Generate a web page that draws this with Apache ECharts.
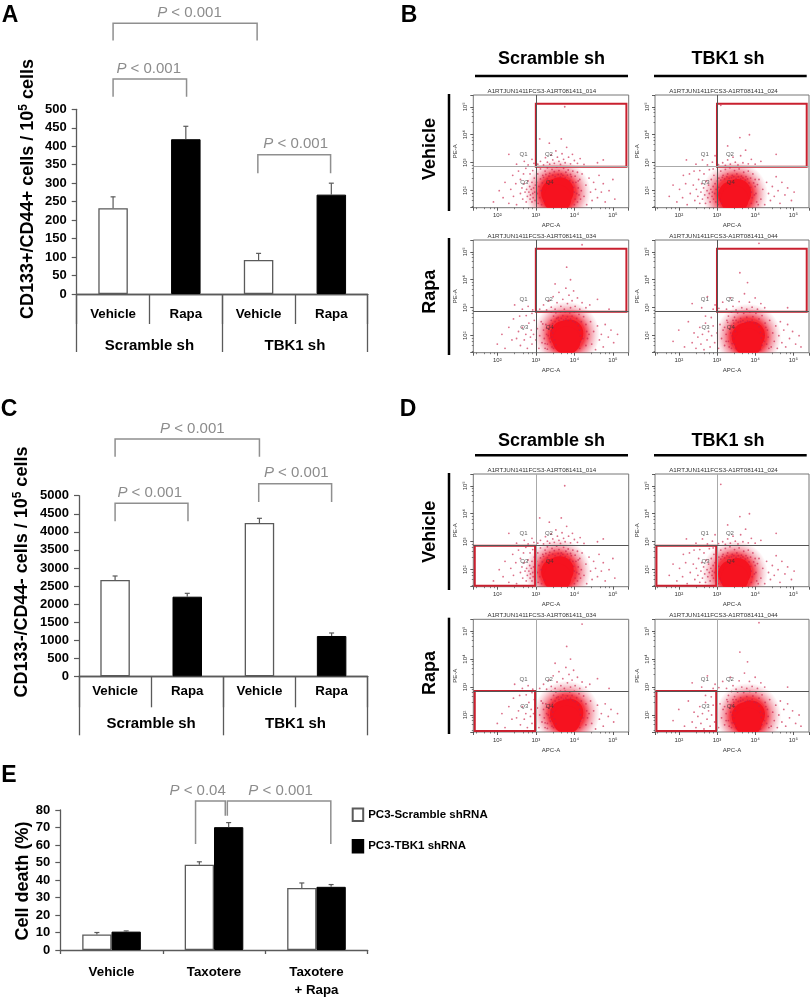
<!DOCTYPE html>
<html>
<head>
<meta charset="utf-8">
<title>CD133/CD44 and cell death panels</title>
<script src="https://cdn.jsdelivr.net/npm/echarts@6/dist/echarts.min.js"></script>
<style>
  html, body { margin: 0; background: #fff; }
  #main { width: 812px; height: 999px; }
</style>
</head>
<body>
<div id="main"></div>
<script>
// bar panels
const treatments = ["Vehicle", "Rapa", "Vehicle", "Rapa"];
const groups = ["Scramble sh", "TBK1 sh"];
const panelAValues = [232, 419, 92, 269];
const panelAUpper = [263, 454, 110, 300];
const panelCValues = [2666, 2204, 4244, 1116];
const panelCUpper = [2777, 2297, 4374, 1199];
const panelECategories = ["Vehicle", "Taxotere", "Taxotere\n+ Rapa"];
const panelEScramble = [8.9, 48.7, 35.4];
const panelEScrambleUpper = [10, 50.4, 38.3];
const panelETbk1 = [10.5, 70.2, 36.1];
const panelETbk1Upper = [10.9, 72.8, 37.4];

// brackets: from, to, top, left foot, right foot, text, text centre
const bracketsA = [
  [0, 1.98, 733, 686, 686, "0.001", 1.05],
  [0, 1.01, 582, 534, 534, "0.001", 0.49],
  [1.99, 2.99, 377, 327, 327, "0.001", 2.51],
];
const bracketsC = [
  [0, 2, 6570, 6080, 6080, "0.001", 1.07],
  [0, 1.01, 4790, 4290, 4290, "0.001", 0.48],
  [1.99, 3, 5333, 4826, 4826, "0.001", 2.51],
];
const bracketsE = [
  [0.82, 1.11, 85.2, 60.6, 76.7, "0.04", 0.84],
  [1.13, 2.14, 85.2, 76.7, 60.6, "0.001", 1.65],
];

// flow plots, in decades (APC, PE). The event lists can't be recovered from the
// picture, so the dots are a hand-read sample of where each cloud sits.
const flowTitles = ["_014", "_024", "_034", "_044"];
const scrambleVehicleCore = [[3.5, 1.92], [3.62, 1.98], [3.56, 1.72]];
const scrambleVehicleMid = [[3.57, 1.93]];
const scrambleVehicleDots = [
  [3.05,2.95],[3.12,3.05],[3.2,2.92],[3.25,3.18],[3.3,3.02],[3.36,2.95],[3.4,3.28],[3.44,3.1],[3.48,2.98],[3.52,3.42],
  [3.56,3.2],[3.6,3.05],[3.64,2.94],[3.68,3.32],[3.72,3.12],[3.76,3],[3.8,3.55],[3.85,3.2],[3.9,2.96],[3.95,3.3],
  [4,3.08],[4.08,2.98],[4.15,3.15],[4.25,2.94],[3.35,3.7],[3.66,3.85],[3.1,3.85],[4.6,3],[4.75,3.1],[3.75,5],
  [2.5,2.95],[2.7,3.05],[2.8,2.92],[2.9,3.12],[2.95,2.98],[2.3,3.3],
  [2.6,1.9],[2.64,2.1],[2.66,1.7],[2.7,2.25],[2.72,1.95],[2.75,1.6],[2.76,2.05],[2.78,1.8],[2.8,2.35],[2.82,1.95],
  [2.84,2.15],[2.85,1.7],[2.86,1.85],[2.88,2.05],[2.9,1.6],[2.9,2.3],[2.92,1.9],[2.93,1.75],[2.94,2.1],[2.96,2.45],
  [2.97,1.95],[2.98,1.65],[2.99,2.2],[1.9,1.6],[2.05,2],[2.15,1.75],[2.2,2.3],[2.3,1.55],[2.35,2.05],[2.4,2.55],
  [2.42,1.8],[2.48,2.25],[2.5,1.5],[2.55,2.7],[2.6,2.4],[2.68,2.6],[2.74,2.8],[2.85,2.6],[2.92,2.72],
  [4.2,2.6],[4.25,1.8],[4.3,2.2],[4.32,1.5],[4.38,2.45],[4.42,1.95],[4.46,1.65],[4.5,2.3],[4.55,2.05],[4.6,1.75],
  [4.64,2.55],[4.7,1.95],[4.75,2.25],[4.8,1.6],[4.9,2],[5,2.4],[5.05,1.7],
  [3.05,2.6],[3.12,2.78],[3.18,2.55],[3.24,2.7],[3.3,2.82],[3.36,2.62],[3.42,2.76],[3.48,2.68],[3.54,2.84],[3.6,2.72],
  [3.66,2.6],[3.72,2.8],[3.78,2.66],[3.84,2.74],[3.9,2.58],[3.96,2.7],[4.02,2.52],[4.08,2.66],[4.14,2.4],[4.04,2.3],
  [4.1,2.1],[4.12,1.85],[4.08,1.6],[4.18,2],[4.16,1.7],
  [3.02,2.3],[3.04,1.9],[3.06,1.55],[3.08,2.15],[3.1,1.75],[3.12,2.42],[3.14,2],[3.15,1.5],[3.17,2.28],[3.2,2.48],
  [3.22,1.62],[3.26,2.58],[3.3,2.42],[3.34,2.52],[3.44,2.56],[3.5,2.5],[3.58,2.58],[3.64,2.5],[3.7,2.55],[3.76,2.46],
  [3.82,2.56],[3.88,2.36],[3.92,2.5],[3.96,2.3],[3.98,2.12],[4,1.95],[4.02,1.7],[4,1.5],[4.06,1.9],[4.1,2.35],
];
const tbk1VehicleCore = [[3.4, 1.85], [3.53, 1.92], [3.46, 1.68]];
const tbk1VehicleMid = [[3.47, 1.87]];
const tbk1VehicleDots = [
  [3.04,2.93],[3.15,3],[3.22,2.9],[3.28,3.1],[3.35,2.95],[3.42,3.2],[3.48,3.02],[3.55,2.92],[3.62,3.25],[3.68,3],
  [3.75,3.45],[3.82,2.96],[3.9,3.12],[4,2.95],[4.15,3.05],[3.28,3.6],[3.6,3.9],[3.1,5.05],[4.55,3.3],[3.85,4],
  [2.45,2.95],[2.62,3.1],[2.75,2.92],[2.88,3.02],[2.95,3.25],[2.2,3.1],
  [2.3,1.9],[2.38,2.2],[2.42,1.65],[2.46,2.05],[2.5,1.8],[2.52,2.4],[2.55,1.55],[2.58,1.95],[2.6,2.25],[2.62,1.7],
  [2.65,2.1],[2.68,1.85],[2.7,1.55],[2.72,2.35],[2.74,2],[2.76,1.75],[2.78,2.2],[2.8,1.9],[2.82,1.6],[2.84,2.05],
  [2.85,2.4],[2.87,1.8],[2.88,1.95],[2.9,2.15],[2.91,1.7],[2.92,2.55],[2.94,1.9],[2.95,2.25],[2.97,1.6],[2.98,2.05],
  [1.75,1.8],[1.85,2.2],[1.95,1.6],[2.02,2.05],[2.1,1.75],[2.12,2.55],[2.18,2.25],[2.22,1.5],[2.28,2.6],[2.4,2.7],
  [2.55,2.72],[2.66,2.6],[2.8,2.75],[2.9,2.78],
  [4.1,2.4],[4.15,1.7],[4.2,2.05],[4.25,1.5],[4.3,2.3],[4.35,1.9],[4.4,1.65],[4.45,2.15],[4.5,1.8],[4.55,2.5],
  [4.6,2],[4.65,1.55],[4.7,2.3],[4.78,1.85],[4.85,2.1],[4.95,1.65],[5.02,1.95],
  [3.05,2.45],[3.1,2.7],[3.16,2.55],[3.22,2.76],[3.28,2.6],[3.34,2.82],[3.4,2.55],[3.46,2.72],[3.52,2.6],[3.58,2.78],
  [3.64,2.52],[3.7,2.66],[3.76,2.5],[3.82,2.7],[3.88,2.45],[3.94,2.6],[4,2.4],[4,2.15],[4.02,1.9],[4.04,1.6],
  [3.01,2.35],[3.02,1.85],[3.03,1.5],[3.05,2.12],[3.07,1.68],[3.1,2.38],[3.14,2.48],[3.2,2.42],[3.26,2.5],[3.32,2.44],
  [3.38,2.46],[3.44,2.5],[3.5,2.44],[3.56,2.5],[3.62,2.42],[3.68,2.46],[3.74,2.38],[3.8,2.42],[3.84,2.28],[3.88,2.12],
  [3.9,1.95],[3.92,1.75],[3.9,1.55],[3.96,2.28],[3.98,1.85],[4.06,2.22],[4.08,1.5],[3.06,1.92],[3.12,1.55],
];
const scrambleRapaCore = [[3.73, 2.03], [3.87, 2.08], [3.8, 1.83]];
const scrambleRapaMid = [[3.8, 2.05]];
const scrambleRapaDots = [
  [3.1,2.95],[3.2,3.1],[3.28,2.92],[3.34,3.25],[3.4,3.02],[3.45,3.4],[3.5,2.95],[3.55,3.18],[3.6,3.55],[3.65,3.05],
  [3.7,3.3],[3.74,2.95],[3.78,3.7],[3.82,3.15],[3.86,3.45],[3.9,3],[3.94,3.25],[3.98,3.6],[4.02,3.05],[4.08,3.35],
  [4.14,2.95],[4.2,3.18],[4.3,3],[4.4,3.1],[3.5,3.85],[3.9,4],[3.8,4.45],[4.2,5.25],[4.9,2.95],[4.6,3.3],
  [2.65,2.95],[2.8,3.05],[2.92,2.92],[2.45,3.1],
  [2.5,1.9],[2.55,2.15],[2.6,1.65],[2.65,2.3],[2.7,1.85],[2.74,2.05],[2.78,1.55],[2.82,2.45],[2.86,1.95],[2.88,2.2],
  [2.9,1.7],[2.94,2.05],[2.96,2.55],[3,1.85],[3.04,2.25],[3.08,1.55],[3.1,2],[3.14,2.5],[3.16,1.75],[3.2,2.2],
  [3.22,1.9],[3.24,1.55],[3.26,2.4],[3.28,2.05],[3.3,1.7],[3.34,2.25],[3.36,1.9],[3.4,2.55],[3.42,1.6],[3.44,2.1],
  [2,1.7],[2.12,2.05],[2.2,1.55],[2.3,2.3],[2.38,1.85],[2.42,2.6],[2.58,2.7],[2.75,2.72],[2.9,2.8],
  [4.42,2.5],[4.45,1.7],[4.5,2.15],[4.55,1.5],[4.6,2.35],[4.65,1.85],[4.7,2.05],[4.75,1.6],[4.8,2.4],[4.88,1.95],
  [4.95,2.2],[5.02,1.75],[5.12,2.05],
  [3.4,2.85],[3.46,2.7],[3.52,2.82],[3.58,2.65],[3.64,2.85],[3.7,2.72],[3.76,2.85],[3.82,2.68],[3.88,2.82],[3.94,2.7],
  [4,2.85],[4.06,2.62],[4.12,2.76],[4.18,2.5],[4.24,2.68],[4.3,2.4],[4.32,2.15],[4.34,1.9],[4.3,1.65],[4.38,2.05],
  [3.18,2.42],[3.24,1.72],[3.28,2.28],[3.3,1.52],[3.32,2],[3.36,2.38],[3.38,1.78],[3.4,2.18],[3.42,1.95],[3.44,2.42],
  [3.46,1.55],[3.46,2.28],[3.48,1.85],[3.5,2.5],[3.52,1.68],[3.54,2.62],[3.6,2.55],[3.66,2.62],[3.72,2.56],[3.78,2.6],
  [3.84,2.55],[3.9,2.6],[3.96,2.52],[4.02,2.48],[4.1,2.36],[4.14,2.2],[4.16,2],[4.16,1.78],[4.14,1.55],[4.22,1.9],
];
const tbk1RapaCore = [[3.75, 1.96], [3.89, 2.02], [3.82, 1.76]];
const tbk1RapaMid = [[3.82, 1.97]];
const tbk1RapaDots = [
  [3.05,2.98],[3.15,3.2],[3.25,2.95],[3.35,3.35],[3.42,3.05],[3.5,2.92],[3.58,3.22],[3.65,3],[3.72,3.5],[3.78,2.95],
  [3.85,3.2],[3.92,3.02],[4,3.35],[4.06,2.95],[4.15,3.15],[4.25,3],[3.8,3.9],[3.6,4.25],[4.1,5.3],[4.85,3],
  [2.35,3.15],[2.6,3],[2.75,3.4],[2.9,2.95],[2.95,3.1],
  [2.35,1.75],[2.4,2.1],[2.45,1.55],[2.5,1.95],[2.55,2.3],[2.58,1.7],[2.62,2.05],[2.66,1.5],[2.7,2.45],[2.74,1.85],
  [2.78,2.15],[2.82,1.6],[2.86,2],[2.9,2.35],[2.94,1.75],[3,2.1],[3.04,1.55],[3.08,2.4],[3.12,1.9],[3.16,2.2],
  [3.2,1.65],[3.24,2.05],[3.26,2.55],[3.3,1.8],[3.34,2.25],[3.38,1.55],[3.4,2],[3.44,2.45],[3.46,1.7],[3.48,2.15],
  [1.85,1.8],[2,2.2],[2.15,1.6],[2.25,2.5],[2.7,2.7],[2.85,2.65],
  [4.38,2.55],[4.42,1.6],[4.46,2.1],[4.5,1.8],[4.54,2.35],[4.58,1.55],[4.62,2],[4.66,2.5],[4.7,1.75],[4.75,2.2],
  [4.8,1.6],[4.85,2.4],[4.9,1.9],[4.98,2.15],[5.06,1.7],[5.15,2],[5.2,1.6],
  [3.3,2.7],[3.38,2.84],[3.46,2.66],[3.54,2.82],[3.62,2.62],[3.7,2.8],[3.78,2.66],[3.86,2.84],[3.94,2.68],[4.02,2.8],
  [4.1,2.6],[4.18,2.72],[4.26,2.45],[4.32,2.2],[4.34,1.95],[4.3,1.7],[4.36,1.55],
  [3.2,2.3],[3.24,1.8],[3.28,2.48],[3.32,1.6],[3.36,2.1],[3.38,2.36],[3.4,1.72],[3.42,2.55],[3.44,1.9],[3.46,2.3],
  [3.5,1.55],[3.5,2.55],[3.56,2.48],[3.62,2.5],[3.68,2.54],[3.74,2.48],[3.8,2.52],[3.86,2.5],[3.92,2.56],[3.98,2.46],
  [4.04,2.44],[4.1,2.32],[4.14,2.12],[4.16,1.92],[4.18,1.66],[4.14,1.5],[4.22,2.05],[4.24,1.8],[4.28,2.3],
];
const quadrantNames = ["Q1", "Q2", "Q3", "Q4"];
const quadrantSpots = [[2.68, 3.29], [3.34, 3.29], [2.7, 2.31], [3.36, 2.31]];

const FONT = "Liberation Sans";
const AXIS_GREY = "#5a5a5a";
const P_GREY = "#8c8c8c";

function decades(list) {
  return list.map(function (p) { return [Math.pow(10, p[0]), Math.pow(10, p[1])]; });
}

var grids = [], xAxes = [], yAxes = [], series = [], titles = [], graphics = [];

function addText(text, x, y, size, rotation) {
  graphics.push({
    type: "text", x: x, y: y, rotation: rotation || 0, silent: true,
    style: { text: text, fill: "#000", font: "bold " + size + "px '" + FONT + "'", align: "center", verticalAlign: "middle" },
  });
}
function addLine(x1, y1, x2, y2, width) {
  graphics.push({
    type: "line", silent: true,
    shape: { x1: x1, y1: y1, x2: x2, y2: y2 },
    style: { stroke: "#000", lineWidth: width },
  });
}
function addYTitle(text, sup, tail, x, y) {
  graphics.push({
    type: "text", x: x, y: y, rotation: Math.PI / 2, silent: true,
    style: {
      text: "{a|" + text + "}{s|" + sup + "}{a|" + tail + "}",
      align: "center", verticalAlign: "middle",
      rich: {
        a: { font: "bold 18px '" + FONT + "'", fill: "#000" },
        s: { font: "bold 12px '" + FONT + "'", fill: "#000", padding: [0, 0, 9, 0] },
      },
    },
  });
}

function renderError(params, api) {
  var x = api.value(0);
  var low = api.coord([x, api.value(1)]);
  var high = api.coord([x, api.value(2)]);
  return {
    type: "group", silent: true,
    children: [
      { type: "line", shape: { x1: low[0], y1: low[1], x2: high[0], y2: high[1] }, style: { stroke: AXIS_GREY, lineWidth: 1.2 } },
      { type: "line", shape: { x1: high[0] - 2.5, y1: high[1], x2: high[0] + 2.5, y2: high[1] }, style: { stroke: AXIS_GREY, lineWidth: 1.2 } },
    ],
  };
}

function renderBracket(params, api) {
  var top = api.value(2);
  var a = api.coord([api.value(0), api.value(3)]);
  var b = api.coord([api.value(0), top]);
  var c = api.coord([api.value(1), top]);
  var d = api.coord([api.value(1), api.value(4)]);
  var textX = api.coord([api.value(6), top])[0];
  return {
    type: "group", silent: true,
    children: [
      { type: "polyline", shape: { points: [a, b, c, d] }, style: { stroke: "#8f8f8f", lineWidth: 1.5, fill: "none" } },
      {
        type: "text", x: textX, y: b[1] - 10.5,
        style: {
          text: "{i|P}{n| < " + api.value(5) + "}", align: "center", verticalAlign: "middle",
          rich: {
            i: { font: "italic 15px '" + FONT + "'", fill: P_GREY },
            n: { font: "15px '" + FONT + "'", fill: P_GREY },
          },
        },
      },
    ],
  };
}

function addErrorAndBrackets(axis, errors, brackets) {
  series.push({
    type: "custom", xAxisIndex: axis.hidden, yAxisIndex: axis.y, silent: true, z: 3,
    renderItem: renderError, data: errors,
  });
  series.push({
    type: "custom", xAxisIndex: axis.hidden, yAxisIndex: axis.y, silent: true, z: 3,
    renderItem: renderBracket, data: brackets,
    dimensions: ["from", "to", "top", "footA", "footB", { name: "p", type: "ordinal" }, "textX"],
  });
}

function yAxisFor(gridIndex, max, step) {
  return {
    type: "value", gridIndex: gridIndex, min: 0, max: max, interval: step,
    axisLine: { show: true, onZero: false, lineStyle: { color: AXIS_GREY, width: 1.3 } },
    axisTick: { show: true, length: 5, lineStyle: { color: AXIS_GREY, width: 1.2 } },
    axisLabel: {
      color: "#000", fontFamily: FONT, fontWeight: "bold", fontSize: 13, margin: 10, hideOverlap: false,
      formatter: function (v) { return String(v); },
    },
    splitLine: { show: false },
  };
}

// panels A and C share a layout: treatments on one axis, groups on a second one below
function addGroupedPanel(cfg) {
  var g = grids.length;
  grids.push({ left: cfg.left, top: cfg.top, width: cfg.width, height: cfg.height });
  var first = xAxes.length;
  xAxes.push({
    type: "category", gridIndex: g, position: "bottom", data: treatments,
    axisLine: { onZero: false, lineStyle: { color: AXIS_GREY, width: 1.3 } },
    axisTick: { show: true, interval: 0, alignWithLabel: false, length: cfg.tick1, lineStyle: { color: AXIS_GREY, width: 1.3 } },
    axisLabel: { interval: 0, color: "#000", fontFamily: FONT, fontWeight: "bold", fontSize: 13.3, margin: cfg.margin1 },
  });
  xAxes.push({
    type: "category", gridIndex: g, position: "bottom", data: groups,
    axisLine: { onZero: false, lineStyle: { color: AXIS_GREY, width: 1.3 } },
    axisTick: { show: true, interval: 0, alignWithLabel: false, length: cfg.tick2, lineStyle: { color: AXIS_GREY, width: 1.3 } },
    axisLabel: { interval: 0, color: "#000", fontFamily: FONT, fontWeight: "bold", fontSize: 15, margin: cfg.margin2 },
  });
  xAxes.push({ type: "value", gridIndex: g, min: -0.5, max: 3.5, show: false });
  var y = yAxes.length;
  yAxes.push(yAxisFor(g, cfg.max, cfg.step));
  series.push({
    type: "bar", xAxisIndex: first, yAxisIndex: y, barWidth: 29.5, silent: true, z: 2,
    data: cfg.values.map(function (v, i) {
      return {
        value: v,
        itemStyle: i % 2
          ? { color: "#000", borderColor: "#000", borderWidth: 1 }
          : { color: "#fff", borderColor: AXIS_GREY, borderWidth: 1.3 },
      };
    }),
  });
  addErrorAndBrackets(
    { hidden: first + 2, y: y },
    cfg.values.map(function (v, i) { return [i, v, cfg.upper[i]]; }),
    cfg.brackets
  );
}

addGroupedPanel({
  left: 76.7, top: 109.3, width: 291, height: 184.7, max: 500, step: 50,
  values: panelAValues, upper: panelAUpper, brackets: bracketsA,
  tick1: 30, tick2: 58, margin1: 14, margin2: 44,
});
addGroupedPanel({
  left: 79, top: 495.7, width: 288.7, height: 180.6, max: 5000, step: 500,
  values: panelCValues, upper: panelCUpper, brackets: bracketsC,
  tick1: 31, tick2: 59, margin1: 9, margin2: 40,
});

// panel E
(function () {
  var g = grids.length;
  grids.push({ left: 60.3, top: 810, width: 307.4, height: 144 });
  var first = xAxes.length;
  xAxes.push({
    type: "category", gridIndex: g, position: "bottom", data: panelECategories,
    axisLine: { onZero: false, lineStyle: { color: AXIS_GREY, width: 1.3 } },
    axisTick: { show: true, interval: 0, alignWithLabel: false, length: 4, lineStyle: { color: AXIS_GREY, width: 1.3 } },
    axisLabel: { interval: 0, color: "#000", fontFamily: FONT, fontWeight: "bold", fontSize: 13.3, margin: 13, lineHeight: 18, verticalAlign: "top" },
  });
  xAxes.push({ type: "value", gridIndex: g, min: -0.5, max: 2.5, show: false });
  var y = yAxes.length;
  yAxes.push(yAxisFor(g, 80, 10));
  series.push({
    name: "PC3-Scramble shRNA", type: "bar", xAxisIndex: first, yAxisIndex: y, barWidth: 29.3, barGap: 0, silent: true, z: 2,
    itemStyle: { color: "#fff", borderColor: AXIS_GREY, borderWidth: 1.3 }, data: panelEScramble,
  });
  series.push({
    name: "PC3-TBK1 shRNA", type: "bar", xAxisIndex: first, yAxisIndex: y, barWidth: 29.3, barGap: 0, silent: true, z: 2,
    itemStyle: { color: "#000", borderColor: "#000", borderWidth: 1 }, data: panelETbk1,
  });
  var errors = [];
  panelEScramble.forEach(function (v, i) { errors.push([i - 0.143, v, panelEScrambleUpper[i]]); });
  panelETbk1.forEach(function (v, i) { errors.push([i + 0.143, v, panelETbk1Upper[i]]); });
  addErrorAndBrackets({ hidden: first + 1, y: y }, errors, bracketsE);
})();

const X_RANGE = [Math.pow(10, 1.377), Math.pow(10, 5.41)];
const Y_RANGE = [Math.pow(10, 1.393), Math.pow(10, 5.42)];
const GATE_X = 1000;
const GATE_Y = 720;
const GATE_HIGH = [[GATE_X, GATE_Y], [224000, 129000]];
const GATE_LOW = [[26, 27], [955, GATE_Y]];
const SUPERS = { 100: "10\u00b2", 1000: "10\u00b3", 10000: "10\u2074", 100000: "10\u2075" };

function flowAxis(gridIndex, range, rotate, name, nameGap) {
  return {
    type: "log", logBase: 10, gridIndex: gridIndex, min: range[0], max: range[1],
    name: name, nameLocation: "middle", nameGap: nameGap,
    nameTextStyle: { fontSize: 6, fontFamily: FONT, color: "#333" },
    axisLine: { show: false },
    axisTick: { show: true, length: 3, lineStyle: { color: "#333", width: 0.8 } },
    minorTick: { show: true, splitNumber: 5, length: 1.5, lineStyle: { color: "#333", width: 0.6 } },
    axisLabel: {
      fontSize: 6, fontFamily: FONT, color: "#333", margin: 5, rotate: rotate, showMinLabel: true, showMaxLabel: true,
      formatter: function (v) { return SUPERS[Math.round(v)] || ""; },
    },
    splitLine: { show: false },
    minorSplitLine: { show: false },
  };
}

// soft density falloff of the dense part of a cloud; a custom series so it clips to the frame
const haloFill = new echarts.graphic.RadialGradient(0.5, 0.5, 0.5, [
  { offset: 0, color: "rgba(246,18,31,0.95)" },
  { offset: 0.55, color: "rgba(246,18,31,0.85)" },
  { offset: 0.72, color: "rgba(235,30,55,0.45)" },
  { offset: 0.88, color: "rgba(225,40,70,0.16)" },
  { offset: 1, color: "rgba(225,40,70,0)" },
]);
function renderHalo(params, api) {
  var c = api.coord([api.value(0), api.value(1)]);
  return { type: "circle", silent: true, shape: { cx: c[0], cy: c[1], r: 33 }, style: { fill: haloFill } };
}
function renderCore(params, api) {
  var c = api.coord([api.value(0), api.value(1)]);
  return { type: "circle", silent: true, shape: { cx: c[0], cy: c[1], r: 14 }, style: { fill: "#f6121f" } };
}

function addFlowPlot(cfg) {
  var g = grids.length;
  grids.push({ left: cfg.left, top: cfg.top, width: 155.4, height: 112.7, show: true, borderColor: "#777", borderWidth: 1, backgroundColor: "#fff" });
  var xi = xAxes.length, yi = yAxes.length;
  xAxes.push(flowAxis(g, X_RANGE, 0, "APC-A", 15));
  yAxes.push(flowAxis(g, Y_RANGE, 90, "PE-A", 15));
  titles.push({
    text: "A1RTJUN1411FCS3-A1RT081411" + cfg.suffix,
    left: cfg.left + 68.5, top: cfg.top - 7, textAlign: "center", padding: 0,
    textStyle: { fontSize: 6.2, fontWeight: "normal", fontFamily: FONT, color: "#333" },
  });
  var base = { xAxisIndex: xi, yAxisIndex: yi, silent: true, clip: true };
  series.push(Object.assign({}, base, {
    type: "scatter", symbolSize: 1.8, data: decades(cfg.sample.dots),
    itemStyle: { color: "rgba(200,30,70,0.8)" },
  }));
  series.push(Object.assign({}, base, {
    type: "custom", renderItem: renderHalo, data: decades(cfg.sample.mid), z: 2,
  }));
  series.push(Object.assign({}, base, {
    type: "custom", renderItem: renderCore, data: decades(cfg.sample.core), z: 2,
  }));
  series.push(Object.assign({}, base, {
    type: "scatter", symbolSize: 0, z: 5,
    data: decades(quadrantSpots).map(function (p, i) { return { name: quadrantNames[i], value: p }; }),
    label: { show: true, position: "inside", formatter: "{b}", fontSize: 6, fontFamily: FONT, color: "#333" },
    markLine: {
      silent: true, symbol: "none", animation: false, label: { show: false },
      data: [
        { xAxis: GATE_X, lineStyle: { color: cfg.vLine, width: 1, type: "solid" } },
        { yAxis: GATE_Y, lineStyle: { color: cfg.hLine, width: 1, type: "solid" } },
      ],
    },
    markArea: {
      silent: true, animation: false,
      itemStyle: { color: "rgba(0,0,0,0)", borderColor: "#c9202f", borderWidth: 2 },
      data: [[{ coord: cfg.gate[0] }, { coord: cfg.gate[1] }]],
    },
  }));
}

const samples = [
  { core: scrambleVehicleCore, mid: scrambleVehicleMid, dots: scrambleVehicleDots },
  { core: tbk1VehicleCore, mid: tbk1VehicleMid, dots: tbk1VehicleDots },
  { core: scrambleRapaCore, mid: scrambleRapaMid, dots: scrambleRapaDots },
  { core: tbk1RapaCore, mid: tbk1RapaMid, dots: tbk1RapaDots },
];
const columnsLeft = [473.3, 655];
[[95, 240, GATE_HIGH], [474, 619.3, GATE_LOW]].forEach(function (panel, p) {
  samples.forEach(function (sample, i) {
    addFlowPlot({
      left: columnsLeft[i % 2],
      top: panel[i < 2 ? 0 : 1],
      suffix: flowTitles[i],
      sample: sample,
      gate: panel[2],
      vLine: p === 0 ? "#555" : "#aaa",
      hLine: p === 0 && i < 2 ? "#aaa" : "#555",
    });
  });
});

// panel letters and headings
[["A", 10, 16], ["B", 409, 16], ["C", 9, 410], ["D", 408, 410], ["E", 9, 776]].forEach(function (t) {
  addText(t[0], t[1], t[2], 23);
});
addYTitle("CD133+/CD44+ cells / 10", "5", " cells", 28, 189);
addYTitle("CD133-/CD44- cells / 10", "5", " cells", 21.7, 572);
addText("Cell death (%)", 23, 881, 18, Math.PI / 2);
[59, 441].forEach(function (y) {
  addText(groups[0], 551.5, y, 18);
  addText(groups[1], 728, y, 18);
  addLine(475, y + (y === 59 ? 17 : 14.3), 628, y + (y === 59 ? 17 : 14.3), 2.5);
  addLine(654, y + (y === 59 ? 17 : 14.3), 806.7, y + (y === 59 ? 17 : 14.3), 2.5);
});
[[149, 94, 211, "Vehicle"], [291.7, 238, 355, "Rapa"], [531.7, 473, 590, "Vehicle"], [673, 617.7, 734, "Rapa"]].forEach(function (r) {
  addText(r[3], 430, r[0], 18, Math.PI / 2);
  addLine(449, r[1], 449, r[2], 2.5);
});

var myChart = echarts.init(document.getElementById("main"), null, { renderer: "canvas" });
var option = {
  animation: false,
  backgroundColor: "#fff",
  textStyle: { fontFamily: FONT },
  title: titles,
  grid: grids,
  xAxis: xAxes,
  yAxis: yAxes,
  series: series,
  graphic: { elements: graphics },
  legend: {
    orient: "vertical", left: 351.7, top: 807.5, padding: 0, itemWidth: 10.5, itemHeight: 12.5, itemGap: 17, selectedMode: false,
    icon: "rect",
    data: ["PC3-Scramble shRNA", "PC3-TBK1 shRNA"],
    textStyle: { fontFamily: FONT, fontWeight: "bold", fontSize: 11.5, color: "#000" },
  },
};
myChart.setOption(option);
</script>
</body>
</html>
